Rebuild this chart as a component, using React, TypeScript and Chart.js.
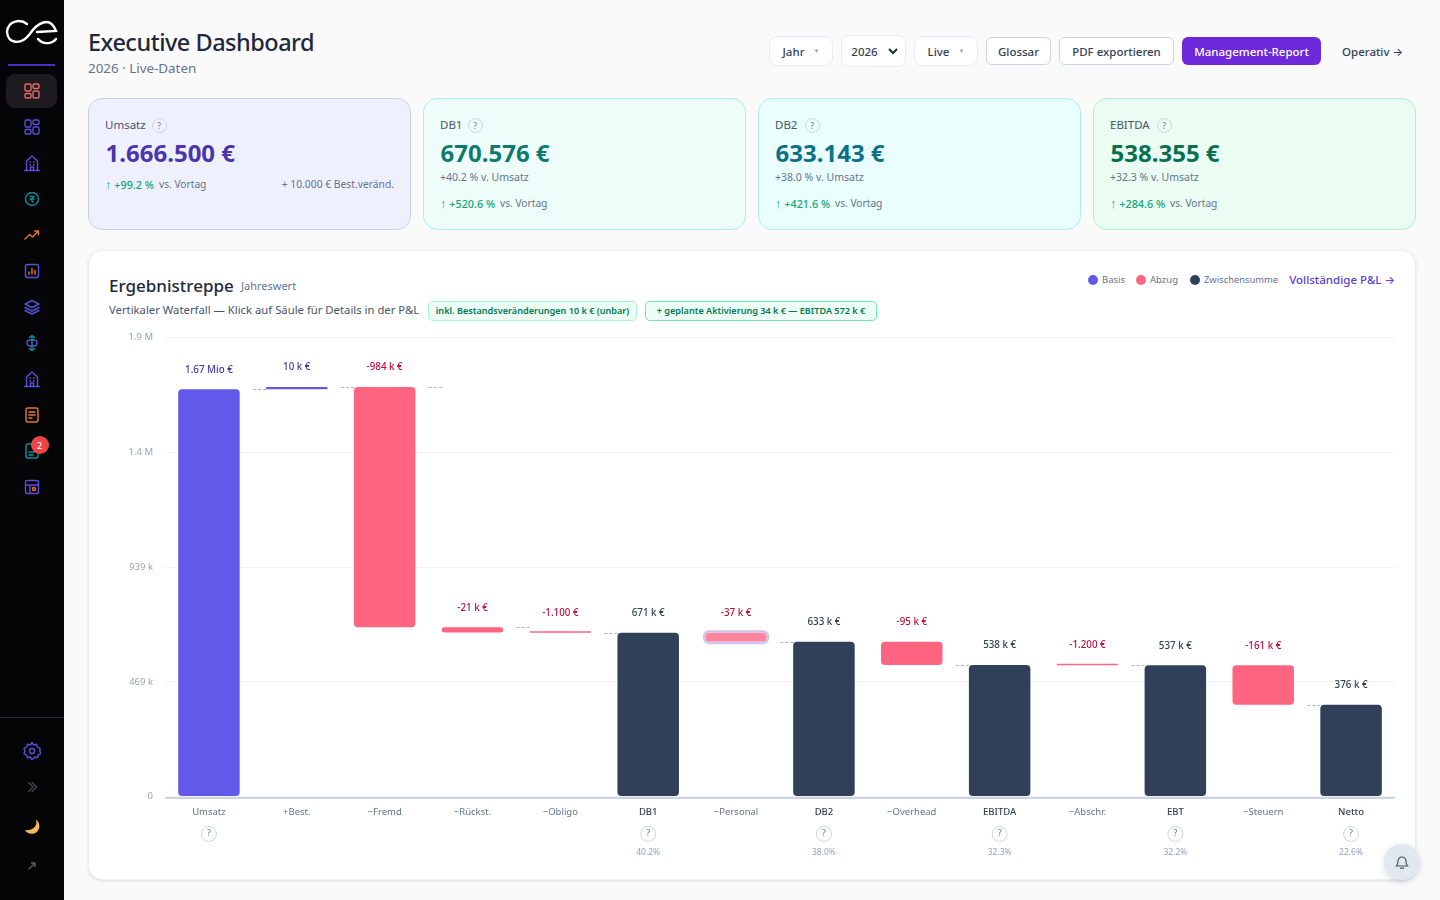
import { useEffect, useRef } from 'react';
import type { CSSProperties, ReactNode } from 'react';
import { Chart, registerables } from 'chart.js';

Chart.register(...registerables);

const FONT = '"Noto Sans", sans-serif';

// waterfall data
const categories = ['Umsatz', '+Best.', '−Fremd', '−Rückst.', '−Obligo', 'DB1', '−Personal', 'DB2', '−Overhead', 'EBITDA', '−Abschr.', 'EBT', '−Steuern', 'Netto'];
const barLow = [0, 1666500, 692500, 671676, 670576, 0, 633143, 0, 538355, 0, 537155, 0, 376000, 0];
const barHigh = [1666500, 1676500, 1676500, 692500, 671676, 670576, 670576, 633143, 633143, 538355, 538355, 537155, 537155, 376000];
const kinds = ['base', 'base', 'minus', 'minus', 'minus', 'sub', 'minus', 'sub', 'minus', 'sub', 'minus', 'sub', 'minus', 'sub'];
const valueLabels = ['1.67 Mio €', '10 k €', '-984 k €', '-21 k €', '-1.100 €', '671 k €', '-37 k €', '633 k €', '-95 k €', '538 k €', '-1.200 €', '537 k €', '-161 k €', '376 k €'];
const connectorLevels = [null, 1666500, 1676500, 1676500, 692500, 670576, null, 633143, null, 538355, null, 537155, null, 376000];
const hintFlags = [true, false, false, false, false, true, false, true, false, true, false, true, false, true];
const shareLabels = [null, null, null, null, null, '40.2%', null, '38.0%', null, '32.3%', null, '32.2%', null, '22.6%'];
const yTickLabels = ['0', '469 k', '939 k', '1.4 M', '1.9 M'];

const fillByKind: Record<string, string> = { base: '#6258e9', minus: '#ff6480', sub: '#2f4058' };
const labelByKind: Record<string, string> = { base: '#4536ad', minus: '#be0f45', sub: '#334155' };
const HOVER_INDEX = 6;

const kpiCards = [
  { title: 'Umsatz', value: '1.666.500 €', sub: null, trend: '+99.2 %', left: 88, hint: 71, bg: '#eef0fe', line: '#c5cff5', color: '#4a35ae' },
  { title: 'DB1', value: '670.576 €', sub: '+40.2 % v. Umsatz', trend: '+520.6 %', left: 423, hint: 52, bg: '#effdfa', line: '#a9efe2', color: '#0d7a72' },
  { title: 'DB2', value: '633.143 €', sub: '+38.0 % v. Umsatz', trend: '+421.6 %', left: 758, hint: 54, bg: '#ebfefe', line: '#aeeff5', color: '#0b7189' },
  { title: 'EBITDA', value: '538.355 €', sub: '+32.3 % v. Umsatz', trend: '+284.6 %', left: 1093, hint: 71, bg: '#ebfcf3', line: '#aeeed2', color: '#08704f' },
];

const waterfallPlugin = {
  id: 'waterfallExtras',
  afterDatasetsDraw(chart: any) {
    const { ctx, scales, chartArea } = chart;
    const x = scales.x;
    const y = scales.y;
    const half = 30.75;
    const bottom = y.getPixelForValue(0);

    ctx.save();

    // axis line sits just under the bars
    ctx.fillStyle = '#cbd5e1';
    ctx.fillRect(chartArea.left, Math.round(bottom), chartArea.right - chartArea.left, 2);

    // hover ring on the Personal bar
    const hovered = chart.getDatasetMeta(0).data[HOVER_INDEX];
    ctx.strokeStyle = '#cfc4ee';
    ctx.lineWidth = 2.5;
    ctx.beginPath();
    ctx.roundRect(hovered.x - hovered.width / 2 - 1.2, hovered.y - 1.2, hovered.width + 2.4, hovered.base - hovered.y + 2.4, 5);
    ctx.stroke();

    ctx.strokeStyle = '#aab3bf';
    ctx.lineWidth = 1;
    ctx.setLineDash([3, 2]);
    connectorLevels.forEach((level, i) => {
      if (level === null) return;
      const right = x.getPixelForValue(i) - half;
      const py = Math.round(y.getPixelForValue(level)) + 0.5;
      ctx.beginPath();
      ctx.moveTo(right - 13, py);
      ctx.lineTo(right, py);
      ctx.stroke();
    });
    ctx.setLineDash([]);

    ctx.textAlign = 'center';
    ctx.textBaseline = 'middle';
    valueLabels.forEach((label, i) => {
      ctx.font = `500 9.8px ${FONT}`;
      ctx.fillStyle = labelByKind[kinds[i]];
      ctx.fillText(label, x.getPixelForValue(i), y.getPixelForValue(barHigh[i]) - 19.5);
    });

    hintFlags.forEach((flag, i) => {
      if (!flag) return;
      const cx = x.getPixelForValue(i);
      ctx.beginPath();
      ctx.arc(cx, bottom + 37.5, 7.5, 0, Math.PI * 2);
      ctx.fillStyle = '#ffffff';
      ctx.fill();
      ctx.strokeStyle = '#cbd5e1';
      ctx.stroke();
      ctx.font = `400 9px ${FONT}`;
      ctx.fillStyle = '#64748b';
      ctx.fillText('?', cx, bottom + 37);
    });
    shareLabels.forEach((label, i) => {
      if (!label) return;
      ctx.font = `400 8.5px ${FONT}`;
      ctx.fillStyle = '#94a3b8';
      ctx.fillText(label, x.getPixelForValue(i), bottom + 56.5);
    });
    ctx.restore();
  },
};

function WaterfallChart() {
  const chartRef = useRef<HTMLCanvasElement>(null);

  useEffect(() => {
    if (!chartRef.current) return;
    const chart = new Chart(chartRef.current, {
      type: 'bar',
      data: {
        labels: categories,
        datasets: [
          {
            data: categories.map((_, i) => [barLow[i], barHigh[i]]) as any,
            backgroundColor: kinds.map((k, i) => (i === HOVER_INDEX ? '#ff859d' : fillByKind[k])),
            borderWidth: 0,
            borderRadius: 4,
            borderSkipped: false,
            barPercentage: 0.7,
            categoryPercentage: 1,
            minBarLength: 1.5,
          },
        ],
      },
      options: {
        responsive: false,
        animation: false,
        layout: { padding: { top: 17.5, right: 5, left: 0, bottom: 0 } },
        plugins: { legend: { display: false }, tooltip: { enabled: false } },
        scales: {
          x: {
            grid: { display: false },
            border: { display: false },
            afterFit: (scale: any) => {
              scale.height = 83.5;
            },
            ticks: {
              maxRotation: 0,
              autoSkip: false,
              padding: 2.5,
              color: (c: any) => (kinds[c.index] === 'sub' ? '#334155' : '#64748b'),
              font: (c: any) => ({ size: 9.5, family: FONT, weight: kinds[c.index] === 'sub' ? 500 : 400 }),
            },
          },
          y: {
            min: 0,
            max: 1878000,
            afterFit: (scale: any) => {
              scale.width = 65;
            },
            grid: { color: '#f1f3f6', drawTicks: false },
            border: { display: false },
            ticks: {
              stepSize: 469500,
              padding: 12,
              color: '#94a3b8',
              font: { size: 9.5, family: FONT },
              callback: (_v: any, i: number) => yTickLabels[i],
            },
          },
        },
      },
      plugins: [waterfallPlugin],
    });
    return () => chart.destroy();
  }, []);

  return <canvas ref={chartRef} width={1300} height={560} style={{ position: 'absolute', left: 100, top: 320, width: 1300, height: 560 }} />;
}

function T(props: { x: number; y: number; size: number; color: string; weight?: number; right?: boolean; spacing?: number; children: ReactNode }) {
  const pos: CSSProperties = props.right ? { right: 1440 - props.x } : { left: props.x };
  return (
    <span style={{ position: 'absolute', ...pos, top: props.y, transform: 'translateY(-50%)', fontSize: props.size, color: props.color, fontWeight: props.weight ?? 400, letterSpacing: props.spacing, lineHeight: 1, whiteSpace: 'nowrap' }}>
      {props.children}
    </span>
  );
}

function Arrow({ glyph, size, family = 'Inter' }: { glyph: string; size: number; family?: string }) {
  return <span style={{ fontFamily: `"${family}", sans-serif`, fontSize: size }}>{glyph}</span>;
}

function Box(props: { x: number; y: number; w: number; h: number; bg: string; line?: string; r?: number; shadow?: string; children?: ReactNode }) {
  return (
    <div style={{ position: 'absolute', left: props.x, top: props.y, width: props.w, height: props.h, boxSizing: 'border-box', background: props.bg, border: props.line ? `1px solid ${props.line}` : 'none', borderRadius: props.r ?? 0, boxShadow: props.shadow, display: 'flex', alignItems: 'center', justifyContent: 'center', fontSize: 11.5, fontWeight: 500, color: '#334155', whiteSpace: 'nowrap' }}>
      {props.children}
    </div>
  );
}

function Hint({ x, y }: { x: number; y: number }) {
  return (
    <div style={{ position: 'absolute', left: x - 7.5, top: y - 7.5, width: 15, height: 15, boxSizing: 'border-box', border: '1px solid #cbd5e1', borderRadius: '50%', display: 'flex', alignItems: 'center', justifyContent: 'center', fontSize: 8.5, color: '#64748b' }}>?</div>
  );
}

function Icon({ y, color, children }: { y: number; color: string; children: ReactNode }) {
  return (
    <svg width={18} height={18} viewBox="0 0 18 18" fill="none" stroke={color} strokeWidth={1.4} strokeLinecap="round" strokeLinejoin="round" style={{ position: 'absolute', left: 23, top: y - 9 }}>
      {children}
    </svg>
  );
}

const gridIcon = (
  <>
    <rect x="2" y="2" width="6" height="7" rx="1.5" />
    <rect x="10" y="2" width="6" height="4.5" rx="1.5" />
    <rect x="2" y="11.5" width="6" height="4.5" rx="1.5" />
    <rect x="10" y="9" width="6" height="7" rx="1.5" />
  </>
);
const houseIcon = (
  <>
    <path d="M1.5 16.5h15M3.5 16V7l5.500-5 5.500 5v9" />
    <path d="M7.500 16v-3h3v3M7 8h.5M10.500 8h.5M7 11h.5M10.500 11h.5" />
  </>
);

function Sidebar() {
  return (
    <div style={{ position: 'absolute', left: 0, top: 0, width: 64, height: 900, background: '#050507' }}>
      <svg width={64} height={64} style={{ position: 'absolute', left: 0, top: 0 }} fill="none" stroke="#ffffff" strokeWidth={2.4} strokeLinecap="round">
        <path d="M27 24C21 19 8 20 7 32C8 44 21 45 29 35C37 23 50 15 56 31L37 32M38 39C43 45 52 44 56 39" />
      </svg>
      <div style={{ position: 'absolute', left: 8, top: 64, width: 47, height: 2, background: '#4a2fc0' }} />
      <div style={{ position: 'absolute', left: 6, top: 74, width: 51, height: 34, background: '#1d1b20', borderRadius: 9 }} />
      <Icon y={91} color="#e56a6a">{gridIcon}</Icon>
      <Icon y={127} color="#5b4fd6">{gridIcon}</Icon>
      <Icon y={163} color="#5b4fd6">{houseIcon}</Icon>
      <Icon y={199} color="#0d8f9a"><circle cx="9" cy="9" r="6.500" /><path d="M7 6.500h4M7 9h4M9 6.500c2 1 1 3-1 3l2 2.500" stroke="#0d8f9a" /></Icon>
      <Icon y={235} color="#e8772e"><path d="M2 13l4.500-4.500 3 2.500 6-6M11.500 5h4v3.500" /></Icon>
      <Icon y={271} color="#5b4fd6"><rect x="2.500" y="2.500" width="13" height="13" rx="2" /><path d="M6 12v-2M9 12V6.500M12 12V8.500" stroke="#e8772e" /></Icon>
      <Icon y={307} color="#5b4fd6"><path d="M9 2.500l7 3.500-7 3.500-7-3.500zM2 9.500l7 3.500 7-3.500M2 12.500l7 3.500 7-3.500" /></Icon>
      <Icon y={343} color="#0d8f9a"><rect x="4" y="6" width="10" height="6" rx="3" stroke="#5b4fd6" /><path d="M9 1.500v15M6.500 3.500L9 1.500l2.500 2M6.500 14.500l2.500 2 2.500-2" /></Icon>
      <Icon y={379} color="#5b4fd6">{houseIcon}</Icon>
      <Icon y={415} color="#e8772e"><rect x="3" y="2" width="12" height="14" rx="2" /><path d="M6 6h6M6 9h6M6 12h3" /></Icon>
      <Icon y={451} color="#0d8f9a"><rect x="3" y="2" width="12" height="14" rx="2" /><path d="M6 10h6M6 13h4" /></Icon>
      <Icon y={487} color="#5b4fd6"><rect x="2.500" y="2.500" width="13" height="13" rx="1.500" /><path d="M2.500 7h13M7 7v8.500" /><circle cx="11" cy="11" r="1.500" stroke="#e8772e" /></Icon>
      <div style={{ position: 'absolute', left: 30.5, top: 436, width: 18, height: 18, borderRadius: '50%', background: '#ef4444', color: '#fff', fontSize: 9, fontWeight: 500, display: 'flex', alignItems: 'center', justifyContent: 'center' }}>2</div>
      <div style={{ position: 'absolute', left: 0, top: 717, width: 64, height: 1, background: '#2a2a2e' }} />
      <Icon y={751} color="#5b4fd6"><circle cx="9" cy="9" r="2.500" /><path d="M9 .5l1.700 2.500 2.900-.7.700 2.900 2.800 1.100L16.800 9l1.200 2.700-2.800 1.100-.7 2.900-2.900-.7L9 17.500l-1.700-2.500-2.900.7-.7-2.900L.9 11.700 2.100 9 .9 6.300l2.800-1.100.7-2.900 2.900.7z" /></Icon>
      <Icon y={787} color="#47474c"><path d="M5.500 4.500L10 9l-4.500 4.500M9 4.500L13.500 9 9 13.500" /></Icon>
      <svg width={18} height={18} viewBox="0 0 18 18" style={{ position: 'absolute', left: 23, top: 818 }}>
        <path d="M13 1.500C15 8 10 13 2 12C4 17 15 18 16.300 9C16.600 6 15.500 3 13 1.500Z" fill="#f6b95c" />
      </svg>
      <Icon y={866} color="#5c5c62"><path d="M6 12l6-6M8.500 6H12v3.500" /></Icon>
    </div>
  );
}

function KpiCard({ card }: { card: (typeof kpiCards)[number] }) {
  const x = card.left + 17;
  const trendY = card.sub ? 202.5 : 183.5;
  return (
    <>
      <Box x={card.left} y={98} w={323} h={132} bg={card.bg} line={card.line} r={14} />
      <T x={x} y={124.5} size={11.5} color="#475569">{card.title}</T>
      <Hint x={card.left + card.hint} y={125} />
      <T x={x + 0.5} y={153} size={24} weight={700} color={card.color}>{card.value}</T>
      {card.sub && <T x={x} y={176.5} size={10.5} color="#64748b">{card.sub}</T>}
      <T x={x} y={trendY} size={10.8} weight={500} color="#10a774"><Arrow glyph="↑" size={13} family="Liberation Sans" /> {card.trend}</T>
      <T x={x + (card.trend.length > 7 ? 60 : 54)} y={trendY} size={10.2} color="#64748b">vs. Vortag</T>
    </>
  );
}

export default function App() {
  return (
    <div style={{ position: 'absolute', left: 0, top: 0, width: 1440, height: 900, overflow: 'hidden', background: '#fafafb', fontFamily: FONT }}>
      <Sidebar />

      <T x={88} y={42.5} size={23.5} weight={500} spacing={-0.5} color="#1e293b">Executive Dashboard</T>
      <T x={88} y={69} size={13.4} color="#64748b">2026 · Live-Daten</T>

      <Box x={769} y={36} w={64} h={30} bg="#ffffff" line="#e8ebf0" r={8}>Jahr<span style={{ marginLeft: 9, fontSize: 6, color: '#94a3b8' }}>▼</span></Box>
      <Box x={841} y={35} w={65} h={32} bg="#ffffff" line="#e8ebf0" r={8}>
        <span style={{ marginLeft: 2 }}>2026</span>
        <svg width={10} height={8} viewBox="0 0 10 8" fill="none" stroke="#1e293b" strokeWidth={2} style={{ marginLeft: 10 }}><path d="M1 2l4 4 4-4" /></svg>
      </Box>
      <Box x={914} y={36} w={64} h={30} bg="#ffffff" line="#e8ebf0" r={8}>Live<span style={{ marginLeft: 9, fontSize: 6, color: '#94a3b8' }}>▼</span></Box>
      <Box x={986} y={37} w={65} h={28} bg="#ffffff" line="#cbd5e1" r={6}>Glossar</Box>
      <Box x={1059} y={37} w={115} h={28} bg="#ffffff" line="#cbd5e1" r={6}>PDF exportieren</Box>
      <Box x={1182} y={37} w={139} h={28} bg="#6d28d9" r={6}><span style={{ color: '#ffffff' }}>Management-Report</span></Box>
      <T x={1342} y={51.5} size={11.5} weight={500} color="#334155">Operativ <Arrow glyph="→" size={11} /></T>

      {kpiCards.map((card) => <KpiCard key={card.title} card={card} />)}
      <T x={394} y={184} size={10.3} color="#64748b" right>+ 10.000 € Best.veränd.</T>

      <Box x={88} y={250} w={1328} h={630} bg="#ffffff" line="#eceef2" r={14} shadow="0 1px 3px rgba(15,23,42,0.12)" />
      <T x={109} y={284.5} size={17} weight={500} color="#1e293b">Ergebnistreppe</T>
      <T x={241} y={285} size={11} color="#64748b">Jahreswert</T>
      <T x={109} y={310} size={11.3} color="#475569">Vertikaler Waterfall — Klick auf Säule für Details in der P&amp;L</T>
      <Box x={428} y={301} w={209} h={20} bg="#ecfdf5" line="#a7f3d0" r={5}><span style={{ position: 'relative', top: -1, fontSize: 9.1, fontWeight: 600, color: '#047857' }}>inkl. Bestandsveränderungen 10 k € (unbar)</span></Box>
      <Box x={645} y={301} w={232} h={20} bg="#ecfdf5" line="#6ee7b7" r={5}><span style={{ position: 'relative', top: -1, fontSize: 9.1, fontWeight: 600, color: '#047857' }}>+ geplante Aktivierung 34 k € — EBITDA 572 k €</span></Box>

      <Box x={1088} y={275} w={10} h={10} bg={fillByKind.base} r={5} />
      <T x={1102} y={280} size={9.5} color="#64748b">Basis</T>
      <Box x={1136} y={275} w={10} h={10} bg={fillByKind.minus} r={5} />
      <T x={1150} y={280} size={9.5} color="#64748b">Abzug</T>
      <Box x={1190} y={275} w={10} h={10} bg={fillByKind.sub} r={5} />
      <T x={1204} y={280} size={9.4} color="#64748b">Zwischensumme</T>
      <T x={1395} y={280} size={11.5} weight={500} color="#5b3fd0" right>Vollständige P&amp;L <Arrow glyph="→" size={11} /></T>

      <WaterfallChart />

      <Box x={1384} y={844} w={36} h={36} bg="#e2e8f0" r={18} shadow="0 2px 6px rgba(15,23,42,0.15)">
        <svg width={16} height={16} viewBox="0 0 16 16" fill="none" stroke="#475569" strokeWidth={1.2} strokeLinecap="round">
          <path d="M2.500 12h11c-1.200-1.300-1.500-2.500-1.500-5a4 4 0 0 0-8 0c0 2.500-.3 3.700-1.500 5zM6.500 14.200h3" />
        </svg>
      </Box>
    </div>
  );
}
